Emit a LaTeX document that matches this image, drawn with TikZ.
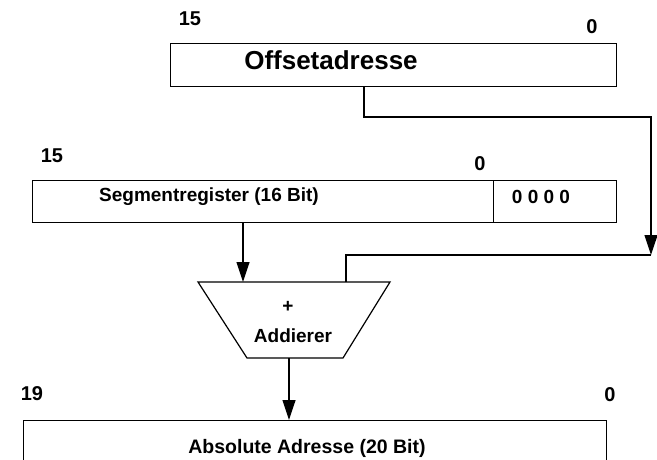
\documentclass[tikz,border=0pt]{standalone}
\usepackage{fontspec}
\setmainfont{Liberation Sans}
\usetikzlibrary{arrows.meta}
\begin{document}
\begin{tikzpicture}[x=1pt,y=-1pt,
  regbox/.style={draw, line width=1.2pt, inner sep=0pt, anchor=north west},
  bitno/.style={font=\fontsize{20}{20}\selectfont\bfseries, inner sep=0pt},
  boxtext/.style={font=\fontsize{19}{19}\selectfont\bfseries, inner sep=0pt},
  wire/.style={line width=1.2pt},
  flow/.style={wire, -{Triangle[length=20pt,width=13pt]}}]
\useasboundingbox (0,0) rectangle (657,459);
\clip (0,0) rectangle (657,459);

% offset register
\node[regbox, minimum width=446pt, minimum height=43pt] (off) at (170,43) {};
\node[font=\fontsize{26}{26}\selectfont\bfseries, inner sep=0pt] (offtxt) at (331,60) {Offsetadresse};
\node[bitno] (off15) at (190,19) {15};
\node[bitno] (off0) at (592,27) {0};

% segment register with appended zero nibble
\node[regbox, minimum width=461pt, minimum height=42pt] (seg) at (32,180) {};
\node[regbox, minimum width=123pt, minimum height=42pt] (zeros) at (493,180) {};
\node[boxtext] (segtxt) at (209,197) {Segmentregister (16 Bit)};
\node[boxtext] (zerotxt) at (541,197) {0 0 0 0};
\node[bitno] (seg15) at (52,156) {15};
\node[bitno] (seg0) at (480,164) {0};

% adder
\coordinate (atl) at (198,282);
\coordinate (atr) at (390,282);
\coordinate (abr) at (343,358);
\coordinate (abl) at (247,358);
\draw[wire] (atl) -- (atr) -- (abr) -- (abl) -- cycle;
\node[boxtext] (plus) at (288,307) {+};
\node[boxtext] (addtxt) at (293,336) {Addierer};
\coordinate (addin1) at (243,282);
\coordinate (addin2) at (346,282);
\coordinate (addout) at (289,358);

% absolute address
\node[regbox, minimum width=583pt, minimum height=60pt] (abs) at (23,420) {};
\node[boxtext, font=\fontsize{19.5}{19.5}\selectfont\bfseries] (abstxt) at (307,448) {Absolute Adresse (20 Bit)};
\node[bitno] (abs19) at (32,394) {19};
\node[bitno] (abs0) at (610,395) {0};

% data paths
\coordinate (offout) at (364,86);
\coordinate (turn) at (651,255);
\coordinate (segout) at (243,222);
\coordinate (absin) at (289,420);
\draw[flow] (offout) -- ++(0,31) -| (turn);
\draw[wire] (turn) -| (addin2);
\draw[flow] (segout) -- (addin1);
\draw[flow] (addout) -- (absin);
\end{tikzpicture}
\end{document}
